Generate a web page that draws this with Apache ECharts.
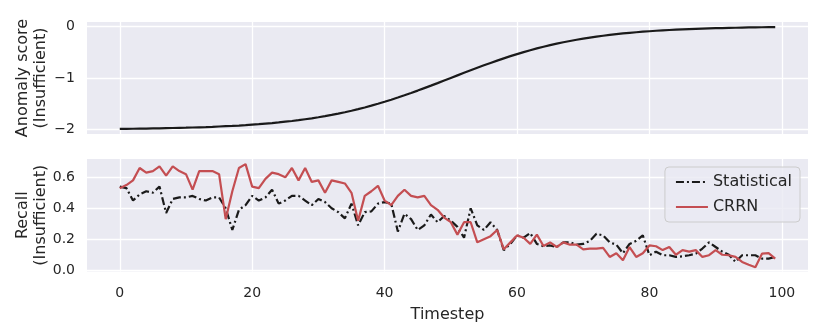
<!DOCTYPE html>
<html>
<head>
<meta charset="utf-8">
<script src="https://cdn.jsdelivr.net/npm/echarts@6/dist/echarts.min.js"></script>
<style>html,body{margin:0;padding:0;background:#fff}#c{width:831px;height:335px}</style>
</head>
<body>
<div id="c"></div>
<script>
const anomalyScore = [
-1.987,-1.985,-1.984,-1.982,-1.980,-1.978,-1.976,-1.973,-1.970,-1.967,
-1.964,-1.960,-1.956,-1.952,-1.947,-1.941,-1.935,-1.929,-1.922,-1.914,
-1.905,-1.896,-1.885,-1.874,-1.862,-1.848,-1.834,-1.818,-1.800,-1.782,
-1.762,-1.740,-1.716,-1.691,-1.664,-1.635,-1.604,-1.572,-1.537,-1.501,
-1.462,-1.422,-1.380,-1.336,-1.291,-1.245,-1.197,-1.149,-1.100,-1.050,
-1.000,-0.950,-0.900,-0.851,-0.803,-0.755,-0.709,-0.664,-0.620,-0.578,
-0.538,-0.499,-0.463,-0.428,-0.396,-0.365,-0.336,-0.309,-0.284,-0.260,
-0.238,-0.218,-0.200,-0.182,-0.166,-0.152,-0.138,-0.126,-0.115,-0.104,
-0.095,-0.086,-0.078,-0.071,-0.065,-0.059,-0.053,-0.048,-0.044,-0.040,
-0.036,-0.033,-0.030,-0.027,-0.024,-0.022,-0.020,-0.018,-0.016,-0.015];

const statistical = [
0.54,0.53,0.45,0.49,0.51,0.50,0.54,0.37,0.46,0.47,
0.47,0.48,0.46,0.45,0.47,0.47,0.40,0.26,0.39,0.42,
0.48,0.45,0.47,0.52,0.43,0.45,0.48,0.48,0.45,0.42,
0.46,0.44,0.40,0.375,0.335,0.43,0.29,0.375,0.38,0.43,
0.44,0.43,0.25,0.365,0.33,0.26,0.29,0.36,0.31,0.35,
0.32,0.28,0.21,0.40,0.29,0.26,0.31,0.26,0.13,0.17,
0.225,0.21,0.24,0.17,0.155,0.16,0.15,0.18,0.18,0.165,
0.17,0.19,0.235,0.225,0.18,0.165,0.11,0.17,0.19,0.225,
0.097,0.12,0.097,0.097,0.086,0.09,0.097,0.107,0.14,0.18,
0.15,0.12,0.10,0.054,0.097,0.097,0.097,0.075,0.075,0.086];

const crrn = [
0.53,0.55,0.58,0.66,0.63,0.64,0.67,0.61,0.67,0.64,
0.62,0.52,0.64,0.64,0.64,0.62,0.33,0.51,0.66,0.685,
0.54,0.53,0.59,0.63,0.62,0.60,0.66,0.58,0.66,0.57,
0.58,0.50,0.58,0.57,0.56,0.50,0.32,0.48,0.51,0.545,
0.45,0.42,0.48,0.52,0.48,0.47,0.48,0.42,0.39,0.34,
0.31,0.23,0.31,0.31,0.18,0.20,0.22,0.26,0.135,0.18,
0.225,0.21,0.17,0.23,0.157,0.18,0.15,0.18,0.165,0.165,
0.135,0.14,0.14,0.145,0.086,0.11,0.065,0.15,0.086,0.11,
0.16,0.155,0.13,0.15,0.10,0.13,0.12,0.13,0.086,0.097,
0.13,0.10,0.097,0.086,0.054,0.036,0.02,0.107,0.11,0.075];

const xTicks = [0, 20, 40, 60, 80, 100];
const topYTicks = [-2, -1, 0];
const bottomYTicks = [0, 0.2, 0.4, 0.6];

const timesteps = anomalyScore.map((_, i) => i);
const pairs = arr => arr.map((v, i) => [timesteps[i], v]);

const FONT = 'DejaVu Sans';
const TXT = '#262626';
const BG = '#EAEAF2';

function xAxis(idx, showLabels) {
  return {
    type: 'value', gridIndex: idx, min: -4.95, max: 103.95,
    axisLine: {show: false},
    axisTick: {show: false, customValues: xTicks},
    axisLabel: {show: showLabels, customValues: xTicks, color: TXT, fontFamily: FONT, fontSize: 14, margin: 15},
    splitLine: {show: true, lineStyle: {color: '#fff', width: 1.3}},
    name: showLabels ? 'Timestep' : '', nameLocation: 'middle', nameGap: 35,
    nameTextStyle: {color: TXT, fontFamily: FONT, fontSize: 16}
  };
}
function yAxis(idx, min, max, ticks, name, fmt) {
  return {
    type: 'value', gridIndex: idx, min: min, max: max,
    axisLine: {show: false},
    axisTick: {show: false, customValues: ticks},
    axisLabel: {customValues: ticks, color: TXT, fontFamily: FONT, fontSize: 14, margin: 12, formatter: fmt},
    splitLine: {show: true, lineStyle: {color: '#fff', width: 1.3}},
    name: name, nameLocation: 'middle', nameGap: 37, nameRotate: 90, nameMoveOverlap: false,
    nameTextStyle: {color: TXT, fontFamily: FONT, fontSize: 16, lineHeight: 18, align: 'center'}
  };
}

const chart = echarts.init(document.getElementById('c'), null, {renderer: 'canvas'});
chart.setOption({
  animation: false,
  grid: [
    {left: 87, right: 23, top: 22, height: 112, show: true, backgroundColor: BG, borderWidth: 0, outerBoundsMode: 'none', containLabel: false},
    {left: 87, right: 23, top: 159, height: 112.5, show: true, backgroundColor: BG, borderWidth: 0, outerBoundsMode: 'none', containLabel: false}
  ],
  xAxis: [xAxis(0, false), xAxis(1, true)],
  yAxis: [
    yAxis(0, -2.086, 0.084, topYTicks, 'Anomaly score\n(Insufficient)', v => String(v).replace('-', '\u2212')),
    yAxis(1, -0.008, 0.718, bottomYTicks, 'Recall\n(Insufficient)', v => v.toFixed(1))
  ],
  legend: {
    right: 31, top: 167, orient: 'vertical',
    data: ['Statistical', 'CRRN'],
    itemWidth: 32, itemHeight: 12, itemGap: 9,
    padding: [7, 8, 7, 10],
    itemStyle: {opacity: 0},
    backgroundColor: 'rgba(234,234,242,0.8)', borderColor: '#cccccc', borderWidth: 1, borderRadius: 4,
    textStyle: {color: TXT, fontFamily: FONT, fontSize: 16}
  },
  series: [
    {type: 'line', xAxisIndex: 0, yAxisIndex: 0, data: pairs(anomalyScore), showSymbol: false, symbol: 'none',
     lineStyle: {color: '#1a1a1a', width: 2.2}},
    {name: 'Statistical', type: 'line', xAxisIndex: 1, yAxisIndex: 1, data: pairs(statistical), showSymbol: false, symbol: 'none',
     itemStyle: {color: '#1a1a1a'}, lineStyle: {color: '#1a1a1a', width: 2.2, type: [8, 3, 2, 3]}},
    {name: 'CRRN', type: 'line', xAxisIndex: 1, yAxisIndex: 1, data: pairs(crrn), showSymbol: false, symbol: 'none',
     itemStyle: {color: '#C44E52'}, lineStyle: {color: '#C44E52', width: 2.2}}
  ]
});
</script>
</body>
</html>
